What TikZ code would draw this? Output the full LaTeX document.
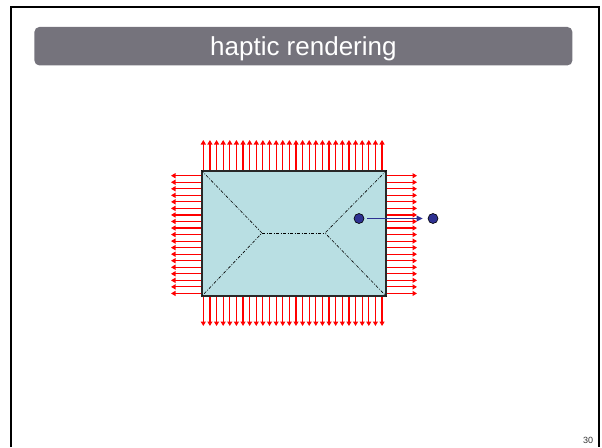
\documentclass[tikz,border=0pt]{standalone}
\usepackage{fontspec}
\setmainfont{Liberation Sans}
\usetikzlibrary{arrows.meta}
\definecolor{barcol}{RGB}{117,115,124}
\definecolor{boxfill}{RGB}{185,223,227}
\definecolor{dotblue}{RGB}{46,49,146}
\begin{document}
\begin{tikzpicture}[x=1pt,y=-1pt,
  force/.style={draw=red, line width=1.2pt, -{Triangle[length=4.5pt,width=5pt]}},
  boxshape/.style={draw={rgb,255:red,40;green,40;blue,40}, line width=1.3pt, fill=boxfill, minimum width=184pt, minimum height=125pt, inner sep=0pt},
  dashdot/.style={draw=black, line width=0.6pt, dash pattern=on 3pt off 1.5pt on 1pt off 1.5pt},
  dot/.style={circle, draw=black, line width=0.6pt, fill=dotblue, minimum size=10pt, inner sep=0pt},
  motion/.style={draw=dotblue, line width=1.8pt, -{Triangle[length=6pt,width=5.5pt]}, shorten <=3pt, shorten >=5pt},
  titlebar/.style={fill=barcol, rounded corners=5pt, minimum width=538pt, minimum height=38.5pt, inner sep=0pt},
  titletext/.style={text=white, font=\fontsize{26}{28}\selectfont, inner sep=0pt, anchor=base}
]
\useasboundingbox (0,0) rectangle (602,447);
% frame
\draw[line width=2pt] (11,447) -- (11,7) -- (599,7) -- (599,447);
% title
\node[titlebar] (title) at (303.4,46.2) {};
\node[titletext] (titlelabel) at (303.4,55) {haptic rendering};
% force arrows
\foreach \i in {0,...,27} {
  \draw[force] ({203.3+\i*6.62},171) -- ({203.3+\i*6.62},140);
  \draw[force] ({203.3+\i*6.62},296) -- ({203.3+\i*6.62},326);
}
\foreach \i in {0,...,18} {
  \draw[force] (202,{175.7+\i*6.54}) -- (171,{175.7+\i*6.54});
  \draw[force] (386,{175.7+\i*6.54}) -- (417,{175.7+\i*6.54});
}
% box
\node[boxshape] (box) at (294,233.5) {};
\coordinate (cl) at (262,233);
\coordinate (cr) at (325,233);
\draw[dashdot] (box.north west) -- (cl) -- (box.south west);
\draw[dashdot] (cl) -- (cr);
\draw[dashdot] (box.north east) -- (cr) -- (box.south east);
% moving point
\node[dot] (p) at (359,218.5) {};
\node[dot] (q) at (433,218.5) {};
\draw[motion] (p) -- (q);
% page number
\node[font=\fontsize{9}{10}\selectfont, text=black!80, inner sep=0pt] (pn) at (588,440) {30};
\end{tikzpicture}
\end{document}
